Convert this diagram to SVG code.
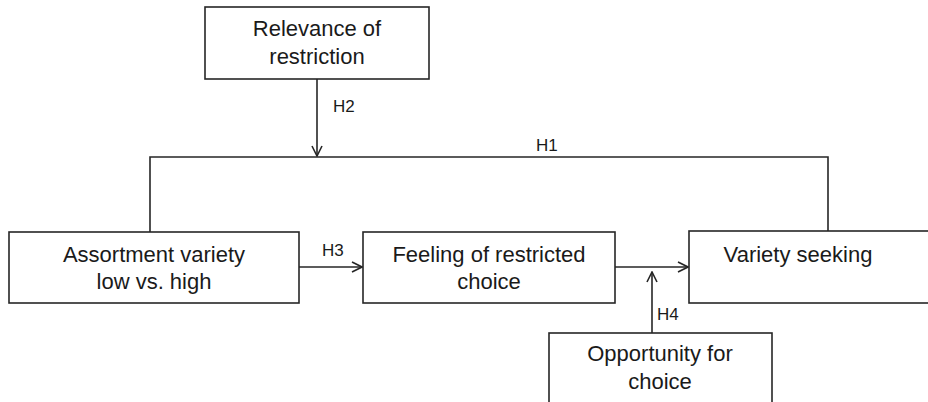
<svg xmlns="http://www.w3.org/2000/svg" width="928" height="402" viewBox="0 0 928 402">
<style>
.box{fill:#fff;stroke:#262626;stroke-width:1.6}
.t{font-family:"Liberation Sans",Arial,sans-serif;font-size:22px;fill:#1a1a1a;text-anchor:middle}
.l{font-family:"Liberation Sans",Arial,sans-serif;font-size:17px;fill:#1a1a1a}
.c{fill:none;stroke:#262626;stroke-width:1.6}
</style>
<defs>
<marker id="ah" viewBox="0 0 12 12" refX="11" refY="6" markerWidth="12" markerHeight="12" markerUnits="userSpaceOnUse" orient="auto">
<path d="M1,1 L11,6 L1,11" fill="none" stroke="#262626" stroke-width="1.6"/>
</marker>
</defs>
<rect width="928" height="402" fill="#fff"/>
<g id="connectors">
<path class="c" d="M317,79 V156" marker-end="url(#ah)"/>
<path class="c" d="M150,232 V157 H828 V231"/>
<path class="c" d="M299,267 H362" marker-end="url(#ah)"/>
<path class="c" d="M615,267 H688" marker-end="url(#ah)"/>
<path class="c" d="M652,333 V272" marker-end="url(#ah)"/>
<text class="l" x="333" y="112">H2</text>
<text class="l" x="536" y="151">H1</text>
<text class="l" x="322" y="256">H3</text>
<text class="l" x="657" y="320">H4</text>
</g>
<g id="relevance">
<rect class="box" x="205" y="7" width="224" height="72"/>
<text class="t" x="317" y="36">Relevance of</text>
<text class="t" x="317" y="64">restriction</text>
</g>
<g id="assortment">
<rect class="box" x="9" y="232" width="290" height="71"/>
<text class="t" x="154" y="262">Assortment variety</text>
<text class="t" x="154" y="289">low vs. high</text>
</g>
<g id="feeling">
<rect class="box" x="363" y="232" width="252" height="71"/>
<text class="t" x="489" y="262">Feeling of restricted</text>
<text class="t" x="489" y="289">choice</text>
</g>
<g id="variety">
<rect class="box" x="689" y="231" width="250" height="72"/>
<text class="t" x="798" y="262">Variety seeking</text>
</g>
<g id="opportunity">
<rect class="box" x="549" y="333" width="223" height="80"/>
<text class="t" x="660" y="361">Opportunity for</text>
<text class="t" x="660" y="389">choice</text>
</g>
</svg>
